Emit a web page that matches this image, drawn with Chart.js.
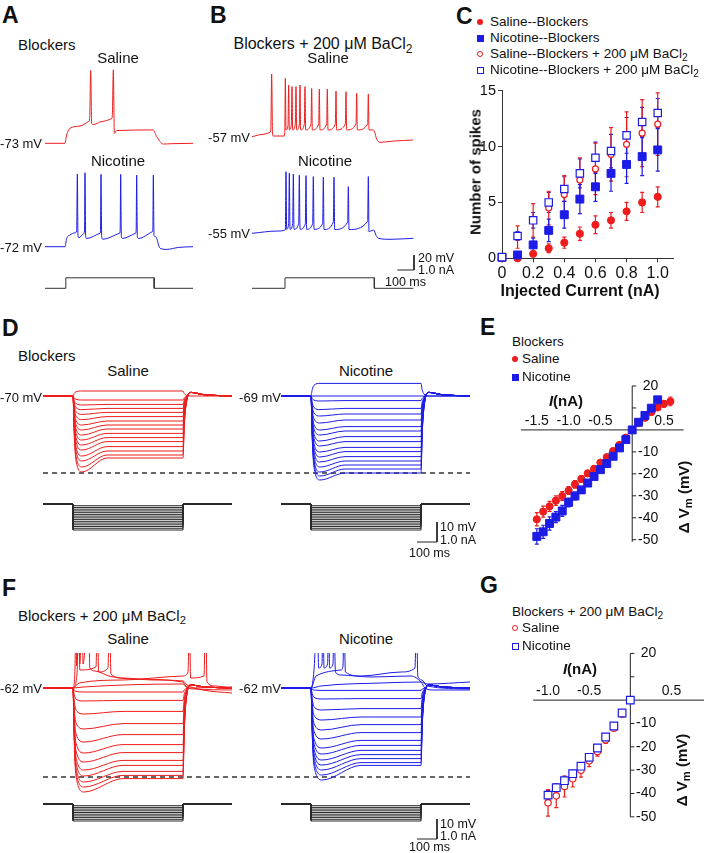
<!DOCTYPE html>
<html lang="pl">
<head>
<meta charset="utf-8">
<title>Blockers / BaCl2</title>
<script src="https://cdn.jsdelivr.net/npm/chart.js@4.4.1/dist/chart.umd.min.js"></script>
<style>
  html, body { margin: 0; padding: 0; background: #fff; }
  #fig { position: relative; width: 704px; height: 853px; overflow: hidden;
         font-family: "Liberation Sans", Arial, Helvetica, sans-serif; color: #111; }
  #fig canvas { position: absolute; }
  .t { position: absolute; white-space: nowrap; font-size: 15px; line-height: 1; }
  .letter { font-size: 23px; font-weight: bold; }
  .big { font-size: 16px; }
  .mv { font-size: 13px; }
  .bar { font-size: 12.5px; }
  .leg { font-size: 13.5px; }
  .ax { font-size: 16px; font-weight: bold; }
  .ax3 { font-size: 15px; font-weight: bold; }
  .ax2 { font-size: 15px; font-weight: bold; }
  sub { font-size: 0.75em; vertical-align: -0.3em; line-height: 0; }
  .mk { position: absolute; box-sizing: border-box; }
</style>
</head>
<body>
<div id="fig"></div>
<script>
// Kolory serii
var RED = "#ee1c1c";
var BLUE = "#1c1ce6";
var INK = "#222";

// ---------- Panel A i B: przebiegi [czas ms, napięcie mV] ----------
var aSalineTrace = [[0,-73],[120,-73],[130,-62],[150,-53],[210,-50],[262,-44],[268,-40],[274,24],[280,-47],[290,-48],[340,-44],[400,-40],[404,-36],[410,25],[416,-59.7],[430,-56],[648,-55.2],[670,-64],[710,-74],[760,-73.5],[888,-73]];
var aNicotineTrace = [[0,-72],[120,-72],[130,-61],[150,-56.4],[180,-53.5],[190,-51],[194,25],[198,-58],[204,-60],[230,-55],[237,-51],[240,26.7],[244,-58],[250,-61],[330,-54],[333,-50],[336,24.4],[340,-58],[346,-62],[448,-54],[451,-50],[454,24.4],[458,-58],[464,-61],[544,-54],[547,-50],[550,23.5],[554,-58],[560,-61],[644,-52],[647,-48],[650,23.5],[654,-57],[664,-58.7],[690,-74],[730,-75.6],[800,-73],[888,-72]];
var aStep = { amp: 0.7, on: 125, off: 655, end: 888 }; // nA, ms

var bSalineTrace = [[0,-57],[60,-54],[108,-51.2],[113,-45],[118,26.6],[123,-52],[128,-56.1],[194,-56.1],[197,-45],[200,20.8],[204,-48],[216,-42],[220,11.9],[224,-48],[236,-41],[240,9.7],[244,-48],[260,-40],[264,9.7],[268,-48],[284,-40],[288,11.9],[292,-48],[314,-40],[318,9.7],[322,-48],[354,-40],[358,7.4],[362,-48],[400,-40],[404,6.6],[408,-48],[448,-40],[452,6.6],[456,-48],[500,-40],[504,3.9],[508,-48],[560,-40],[564,3],[568,-48],[624,-40],[628,0.8],[632,-48],[694,-40],[698,-0.1],[702,-48],[728,-48],[736,-51],[748,-60],[768,-64.5],[850,-62.8],[966,-61.4]];
var bNicotineTrace = [[0,-55],[150,-52],[200,-50.5],[204,27.2],[208,-49.7],[220,-42],[224,25],[228,-49.7],[244,-42],[248,24.1],[252,-49.7],[280,-42],[284,22.8],[288,-49.7],[320,-42],[324,21.9],[328,-49.7],[364,-42],[368,20.6],[372,-49.7],[424,-42],[428,19.7],[432,-50],[488,-40],[492,19.7],[496,-50],[574,-40],[578,7.2],[582,-50],[694,-39],[698,20.6],[702,-52.8],[712,-52],[730,-50.6],[745,-58],[758,-61.7],[828,-63],[968,-61.7]];
var bStep = { amp: 0.7, on: 198, off: 734, end: 968 };

// ---------- Panel C: liczba potencjałów vs prąd ----------
var cCurrent = [0, 0.1, 0.2, 0.3, 0.4, 0.5, 0.6, 0.7, 0.8, 0.9, 1.0];
var cSalineBlk = [0, 0, 0.4, 0.9, 1.4, 2.2, 3.0, 3.4, 4.2, 5.0, 5.5];
var cSalineBlkErr = [0, 0, 0.2, 0.4, 0.5, 0.6, 0.8, 0.7, 0.8, 0.9, 0.9];
var cNicotineBlk = [0.1, 0.3, 1.2, 2.5, 3.9, 5.3, 6.4, 7.6, 8.4, 9.1, 9.7];
var cNicotineBlkErr = [0.1, 0.3, 0.6, 1.0, 1.2, 1.3, 1.3, 1.6, 1.7, 1.7, 1.9];
var cSalineBa = [0.1, 1.9, 3.4, 4.5, 5.7, 7.0, 8.0, 9.3, 10.2, 11.2, 12.0];
var cSalineBaErr = [0.2, 1.0, 1.5, 1.5, 1.7, 2.0, 2.3, 2.4, 2.9, 3.0, 2.8];
var cNicotineBa = [0.1, 2.0, 3.4, 5.0, 6.2, 7.6, 9.0, 9.6, 11.0, 12.2, 13.0];
var cNicotineBaErr = [0.1, 0.4, 0.7, 0.9, 1.1, 1.3, 1.4, 1.5, 1.6, 1.3, 1.3];
var cTicksX = [0, 0.2, 0.4, 0.6, 0.8, 1.0];

// ---------- Panel D: odpowiedzi na skoki prądu (ΔV w mV) ----------
var dSalineSteady = [2.5, -2, -4.2, -6.2, -8.2, -10.3, -12.5, -14.5, -16.5, -18.7, -20.8, -22.8, -25.3, -27.5, -29.5, -31];
var dSalineSag = [2.5, -2, -4.5, -6.8, -9.2, -11.8, -14.5, -17, -19.5, -22, -24.5, -27, -30, -32.5, -35.5, -38];
var dNicotineSteady = [6.3, 0, -2.3, -6.2, -9, -12, -15.3, -17.5, -20.3, -22.8, -25.7, -27.8, -30.3, -32.5, -34.5, -36.5, -38.5];
var dNicotineSag = [6.3, 0, -2.5, -6.8, -10, -13.5, -17, -19.5, -22.5, -25, -28, -30.5, -33, -35.5, -38, -40, -42];
var dCurrentLevels = [-0.1, -0.2, -0.3, -0.4, -0.5, -0.6, -0.7, -0.8, -0.9, -1.0, -1.1, -1.2, -1.3, -1.4, -1.5];
var dReference = -38.5; // linia przerywana, mV

// ---------- Panel E ----------
var eSalineCurrent = [-1.5,-1.4,-1.3,-1.2,-1.1,-1.0,-0.9,-0.8,-0.7,-0.6,-0.5,-0.4,-0.3,-0.2,-0.1,0,0.1,0.2,0.3,0.4,0.5,0.6];
var eSaline = [-40.7,-37.2,-34.8,-32.2,-30.1,-27.6,-24.8,-22.3,-19.8,-17.7,-14.9,-12.4,-9.6,-6.8,-3.5,0,3.1,5.5,8.1,10.2,11.9,13.0];
var eSalineErr = [3,2.5,2.3,2.2,2,1.8,1.7,1.5,1.4,1.3,1.1,1,0.9,0.8,0.6,0,0.8,1,1,1.2,1.5,2];
var eNicotineCurrent = [-1.5,-1.4,-1.3,-1.2,-1.1,-1.0,-0.9,-0.8,-0.7,-0.6,-0.5,-0.4,-0.3,-0.2,-0.1,0,0.1,0.2,0.3,0.4];
var eNicotine = [-48.5,-46.4,-42.6,-39.7,-36.9,-33,-30.1,-27.3,-24.2,-21.2,-18.1,-15.3,-12,-8.2,-4.4,0,3.5,6.6,9.9,13.7];
var eNicotineErr = [3.5,3,3,2.5,2.5,2,1.8,1.5,1.3,1.2,1,1,0.8,0.7,0.5,0,0.5,0.7,0.8,1];
var eTicksX = [-1.5, -1.0, -0.5, 0.5];
var eTicksY = [20, 10, 0, -10, -20, -30, -40, -50];
var eLabelsY = [20, -10, -20, -30, -40, -50];

// ---------- Panel F ----------
var fSalineSteady = [-2, -6.2, -11.7, -17.8, -23.3, -28.3, -32.3, -36.2, -38.7, -41.7, -43.7, -45.3];
var fSalineSag = [-2, -6.5, -13, -20.5, -27, -32.5, -37, -41, -44, -47, -49.5, -52];
var fNicotineSteady = [-1.2, -5.3, -10.3, -14.5, -18.3, -22.3, -26.2, -28.7, -31.2, -33.3, -35.3, -37.3, -38.7];
var fNicotineSag = [-1.2, -5.5, -11, -16, -21, -25.5, -30, -33, -36, -38.5, -41, -43.5, -46];
// przebiegi depolaryzujące z potencjałami (szczyty obcięte u góry)
var fSalineDepA = [[0,0],[150,0],[160,10],[164,40],[168,11],[180,40],[184,12],[196,40],[200,12],[228,40],[234,10],[260,8.5],[330,6],[450,4.5],[700,3],[715,0.5],[760,-0.5],[945,-1]];
var fSalineDepB = [[0,0],[150,0],[170,7],[178,40],[184,9],[265,10.5],[272,40],[278,8],[325,10],[332,40],[340,7],[400,5],[550,4],[700,3.5],[720,1.5],[800,-1],[945,-2.5]];
var fSalineDepC = [[0,0],[150,0],[180,2.5],[400,4],[700,6],[725,8],[732,40],[738,5],[805,6],[813,40],[820,3],[860,1],[945,0]];
var fSalineDepD = [[0,0],[150,0],[200,0.5],[700,2],[730,0],[945,0.5]];
var fNicotineDepA = [[0,0],[150,0],[165,9],[182,40],[188,10],[205,12],[210,40],[215,10],[233,12],[238,40],[243,10],[260,12],[265,40],[272,8],[300,6.5],[450,5.5],[650,6],[700,3],[720,0],[760,-1],[945,-1]];
var fNicotineDepB = [[0,0],[150,0],[175,6],[300,9],[310,11],[315,40],[322,8],[400,6],[600,8],[670,10],[677,40],[684,6],[705,4],[730,1],[945,-0.5]];
var fNicotineDepC = [[0,0],[150,0],[200,1],[500,2.5],[700,3],[730,2],[945,3]];
var fCurrentLevels = [-0.1, -0.2, -0.3, -0.4, -0.5, -0.6, -0.7, -0.8, -0.9, -1.0];
var fReference = -44.5;

// ---------- Panel G ----------
var gCurrent = [-1.0,-0.9,-0.8,-0.7,-0.6,-0.5,-0.4,-0.3,-0.2,-0.1,0];
var gSaline = [-44,-41,-37,-33.7,-30,-26,-22,-17,-12,-6,0];
var gSalineErr = [5.7,5,4.5,3.5,3,2.5,2,1.5,1,0.7,0];
var gNicotine = [-40.7,-37.5,-34.5,-31.5,-28.3,-24.5,-20.5,-15.8,-11.1,-5.5,0];
var gNicotineErr = [2,1.8,1.8,1.5,1.3,1,1,0.8,0.6,0.5,0];
var gTicksX = [-1.0, -0.5, 0.5];
var gTicksY = [20, 10, 0, -10, -20, -30, -40, -50];
var gLabelsY = [20, -10, -20, -30, -40, -50];

Chart.defaults.font.family = "'Liberation Sans', Arial, Helvetica, sans-serif";
Chart.defaults.color = "#111";

var fig = document.getElementById("fig");

// Tworzy płótno w zadanym miejscu
function makeCanvas(left, top, w, h) {
  var c = document.createElement("canvas");
  c.width = w;
  c.height = h;
  c.style.left = left + "px";
  c.style.top = top + "px";
  fig.appendChild(c);
  return c.getContext("2d");
}

// Zakres osi poziomej: wartość v0 ląduje na pikselu p0
function hRange(left, width, p0, v0, pxPerUnit) {
  return { min: v0 - (p0 - left) / pxPerUnit, max: v0 + (left + width - p0) / pxPerUnit };
}
// Zakres osi pionowej
function vRange(top, height, p0, v0, pxPerUnit) {
  return { min: v0 - (top + height - p0) / pxPerUnit, max: v0 + (p0 - top) / pxPerUnit };
}
function hidden(r) {
  return { type: "linear", display: false, min: r.min, max: r.max };
}

function toXY(pts, offset) {
  return pts.map(function (p) { return { x: p[0] + (offset || 0), y: p[1] }; });
}

// Zwykła linia przebiegu
function trace(pts, color, axis, offset) {
  return {
    data: toXY(pts, offset), borderColor: color, borderWidth: 1, pointRadius: 0,
    cubicInterpolationMode: "monotone", yAxisID: axis, fill: false
  };
}
// Linia łamana (skok prądu, skala)
function poly(pts, color, axis, offset, width, dash) {
  return {
    data: toXY(pts, offset), borderColor: color, borderWidth: width || 1, pointRadius: 0,
    tension: 0, yAxisID: axis, fill: false, borderDash: dash || []
  };
}

function currentStep(level, on, off, end) {
  return [[0, 0], [on, 0], [on, level], [off, level], [off, 0], [end, 0]];
}

// Odpowiedź na skok prądu z wartości ustalonej i minimum (sag)
function stepResponse(steady, sag, rebound, p) {
  var reb = steady < 0 ? rebound : 0;
  return [[0, 0], [p.on, 0], [p.on + 6, 0.5 * sag], [p.on + 15, 0.85 * sag], [p.on + p.sagAt, sag],
    [p.on + p.settle, steady], [p.off, steady], [p.off + 6, 0.5 * steady], [p.off + 15, 0.15 * steady],
    [p.off + 40, reb], [p.off + 100, reb * 0.4], [p.end, 0]];
}

function baseOptions(scales, plugins) {
  return {
    responsive: false, animation: false, devicePixelRatio: 1, events: [],
    layout: { padding: 0 },
    plugins: Object.assign({ legend: { display: false }, tooltip: { enabled: false } }, plugins || {}),
    scales: scales
  };
}

// Słupki błędów rysowane pod markerami
var errorBars = {
  id: "errorBars",
  beforeDatasetsDraw: function (chart) {
    var ctx = chart.ctx;
    chart.data.datasets.forEach(function (ds, i) {
      if (!ds.errors) return;
      var meta = chart.getDatasetMeta(i);
      var ys = chart.scales[meta.yAxisID];
      ctx.save();
      ctx.strokeStyle = ds.borderColor;
      ctx.lineWidth = 1.2;
      meta.data.forEach(function (pt, j) {
        var e = ds.errors[j];
        if (!e) return;
        var v = ds.data[j].y;
        var y1 = ys.getPixelForValue(v + e), y2 = ys.getPixelForValue(v - e);
        ctx.beginPath();
        ctx.moveTo(pt.x, y1); ctx.lineTo(pt.x, y2);
        ctx.moveTo(pt.x - 2, y1); ctx.lineTo(pt.x + 2, y1);
        ctx.moveTo(pt.x - 2, y2); ctx.lineTo(pt.x + 2, y2);
        ctx.stroke();
      });
      ctx.restore();
    });
  }
};

// Osie przecinające się w (0,0) – panele E i G
var crossAxes = {
  id: "crossAxes",
  beforeDatasetsDraw: function (chart, args, o) {
    var ctx = chart.ctx, x = chart.scales.x, y = chart.scales.y;
    var x0 = x.getPixelForValue(0), y0 = y.getPixelForValue(0);
    ctx.save();
    ctx.strokeStyle = INK;
    ctx.lineWidth = 1;
    ctx.beginPath();
    ctx.moveTo(x.getPixelForValue(o.xFrom), y0); ctx.lineTo(x.getPixelForValue(o.xTo), y0);
    ctx.moveTo(x0, y.getPixelForValue(o.yFrom)); ctx.lineTo(x0, y.getPixelForValue(o.yTo));
    o.yTicks.forEach(function (v) {
      var p = y.getPixelForValue(v);
      ctx.moveTo(x0, p); ctx.lineTo(x0 + 4, p);
    });
    ctx.stroke();
    ctx.fillStyle = "#111";
    ctx.font = "14px 'Liberation Sans', Arial, sans-serif";
    ctx.textAlign = "right";
    ctx.textBaseline = "middle";
    o.yLabels.forEach(function (v) { ctx.fillText(String(v), x0 + 26, y.getPixelForValue(v)); });
    ctx.textAlign = "center";
    o.xTicks.forEach(function (v) { ctx.fillText(v.toFixed(1), x.getPixelForValue(v), y0 - 9); });
    ctx.restore();
  }
};

function points(xs, ys, errs, color, style, radius, open, order) {
  return {
    data: xs.map(function (v, i) { return { x: v, y: ys[i] }; }),
    errors: errs, borderColor: color, backgroundColor: open ? "#fff" : color,
    pointStyle: style, pointRadius: radius, borderWidth: open ? 1.2 : 1,
    showLine: false, clip: false, order: order
  };
}

// ===== Panel A =====
(function () {
  var L = 40, T = 60, W = 160, H = 235;
  var ctx = makeCanvas(L, T, W, H);
  new Chart(ctx, {
    type: "line",
    data: { datasets: [
      trace(aSalineTrace, RED, "ySal"),
      trace(aNicotineTrace, BLUE, "yNic"),
      poly(currentStep(aStep.amp, aStep.on, aStep.off, aStep.end), "#333", "yI")
    ] },
    options: baseOptions({
      x: hidden(hRange(L, W, 45, 0, 1 / 6)),
      ySal: hidden(vRange(T, H, 143.3, -73, 0.75)),
      yNic: hidden(vRange(T, H, 246.7, -72, 0.75)),
      yI: hidden(vRange(T, H, 288.3, 0, 15))
    })
  });
})();

// ===== Panel B =====
(function () {
  var L = 248, T = 60, W = 172, H = 235;
  var ctx = makeCanvas(L, T, W, H);
  var xr = hRange(L, W, 252, 0, 1 / 6);
  // skala 20 mV / 100 ms w jednostkach osi yNic
  var sbT = (414 - 252) * 6, sbV = -55 - (270 - 233.3) / 0.75;
  new Chart(ctx, {
    type: "line",
    data: { datasets: [
      trace(bSalineTrace, RED, "ySal"),
      trace(bNicotineTrace, BLUE, "yNic"),
      poly(currentStep(bStep.amp, bStep.on, bStep.off, bStep.end), "#333", "yI"),
      poly([[sbT, sbV + 20], [sbT, sbV], [sbT - 100, sbV]], "#222", "yNic")
    ] },
    options: baseOptions({
      x: hidden(xr),
      ySal: hidden(vRange(T, H, 136.7, -57, 0.75)),
      yNic: hidden(vRange(T, H, 233.3, -55, 0.75)),
      yI: hidden(vRange(T, H, 288.3, 0, 15))
    })
  });
})();

// ===== Panel C =====
(function () {
  var ctx = makeCanvas(470, 80, 234, 220);
  var axisStyle = {
    grid: { display: true, drawOnChartArea: false, drawTicks: true, tickLength: 4, color: "#333" },
    border: { display: true, color: "#333", width: 1 }
  };
  new Chart(ctx, {
    type: "scatter",
    data: { datasets: [
      points(cCurrent, cNicotineBa, cNicotineBaErr, BLUE, "rect", 5.2, true, 0),
      points(cCurrent, cSalineBa, cSalineBaErr, RED, "circle", 3, true, 1),
      points(cCurrent, cNicotineBlk, cNicotineBlkErr, BLUE, "rect", 5.6, false, 2),
      points(cCurrent, cSalineBlk, cSalineBlkErr, RED, "circle", 3.6, false, 3)
    ] },
    options: Object.assign(baseOptions({
      x: Object.assign({
        type: "linear", min: 0, max: 1.1,
        afterBuildTicks: function (s) { s.ticks = cTicksX.map(function (v) { return { value: v }; }); },
        afterFit: function (s) { s.height = 41.7; },
        ticks: { font: { size: 16 }, color: "#111", padding: 2, maxRotation: 0, autoSkip: false,
          callback: function (v) { return v === 0 ? "0" : v.toFixed(1); } }
      }, axisStyle),
      y: Object.assign({
        type: "linear", min: 0, max: 15,
        afterFit: function (s) { s.width = 32; },
        ticks: { stepSize: 5, font: { size: 14.5 }, color: "#111", padding: 2 }
      }, axisStyle)
    }), { layout: { padding: { left: 0, top: 7.3, right: 30.7, bottom: 0 } } }),
    plugins: [errorBars]
  });
})();

// ===== Panele D i F: rodziny przebiegów =====
function familyChart(cfg) {
  var ctx = makeCanvas(0, cfg.top, 480, cfg.height);
  var nicOffset = (281 - 43) * 5; // druga kolumna
  var ds = [];
  cfg.salSteady.forEach(function (s, i) {
    ds.push(trace(stepResponse(s, cfg.salSag[i], cfg.rebound, cfg.shape), RED, "yV", 0));
  });
  (cfg.salExtra || []).forEach(function (p) { ds.push(trace(p, RED, "yV", 0)); });
  cfg.nicSteady.forEach(function (s, i) {
    ds.push(trace(stepResponse(s, cfg.nicSag[i], cfg.rebound, cfg.shape), BLUE, "yV", nicOffset));
  });
  (cfg.nicExtra || []).forEach(function (p) { ds.push(trace(p, BLUE, "yV", nicOffset)); });
  cfg.currents.forEach(function (lv) {
    var st = currentStep(lv, cfg.shape.on, cfg.shape.off, cfg.shape.end);
    ds.push(poly(st, "#2a2a2a", "yI", 0));
    ds.push(poly(st, "#2a2a2a", "yI", nicOffset));
  });
  // linia odniesienia
  ds.push(poly([[0, cfg.reference], [(470 - 43) * 5, cfg.reference]], "#333", "yV", 0, 1.3, [5, 4]));
  // skala 10 mV / 100 ms
  var sbT = (437 - 43) * 5, sbV = -(cfg.barBottom - cfg.zeroPx) / 2;
  ds.push(poly([[sbT, sbV + 10], [sbT, sbV], [sbT - 100, sbV]], "#222", "yV", 0));
  new Chart(ctx, {
    type: "line",
    data: { datasets: ds },
    options: baseOptions({
      x: hidden(hRange(0, 480, 43, 0, 0.2)),
      yV: hidden(vRange(cfg.top, cfg.height, cfg.zeroPx, 0, 2)),
      yI: hidden(vRange(cfg.top, cfg.height, cfg.iZeroPx, 0, cfg.iScale))
    })
  });
}

familyChart({
  top: 380, height: 180, zeroPx: 396, iZeroPx: 504, iScale: 26 / 1.5, barBottom: 542,
  salSteady: dSalineSteady, salSag: dSalineSag, nicSteady: dNicotineSteady, nicSag: dNicotineSag,
  currents: dCurrentLevels, reference: dReference, rebound: 1.8,
  shape: { on: 150, off: 700, end: 945, sagAt: 45, settle: 170 }
});

familyChart({
  top: 653, height: 200, zeroPx: 688, iZeroPx: 804, iScale: 17, barBottom: 839,
  salSteady: fSalineSteady, salSag: fSalineSag, nicSteady: fNicotineSteady, nicSag: fNicotineSag,
  salExtra: [fSalineDepA, fSalineDepB, fSalineDepC, fSalineDepD],
  nicExtra: [fNicotineDepA, fNicotineDepB, fNicotineDepC],
  currents: fCurrentLevels, reference: fReference, rebound: 1.5,
  shape: { on: 150, off: 700, end: 945, sagAt: 55, settle: 250 }
});

// ===== Panel E =====
(function () {
  var L = 500, T = 370, W = 204, H = 190;
  var ctx = makeCanvas(L, T, W, H);
  new Chart(ctx, {
    type: "scatter",
    data: { datasets: [
      points(eNicotineCurrent, eNicotine, eNicotineErr, BLUE, "rect", 5.6, false, 0),
      points(eSalineCurrent, eSaline, eSalineErr, RED, "circle", 3.6, false, 1)
    ] },
    options: baseOptions({
      x: hidden(hRange(L, W, 634.3, 0, 68)),
      y: hidden(vRange(T, H, 427.3, 0, 2.36))
    }, { crossAxes: { xFrom: -1.75, xTo: 0.81, yFrom: -51, yTo: 20, yTicks: eTicksY, yLabels: eLabelsY, xTicks: eTicksX } }),
    plugins: [crossAxes, errorBars]
  });
})();

// ===== Panel G =====
(function () {
  var L = 500, T = 640, W = 204, H = 200;
  var ctx = makeCanvas(L, T, W, H);
  new Chart(ctx, {
    type: "scatter",
    data: { datasets: [
      points(gCurrent, gNicotine, gNicotineErr, BLUE, "rect", 5.4, true, 0),
      points(gCurrent, gSaline, gSalineErr, RED, "circle", 3.2, true, 1)
    ] },
    options: baseOptions({
      x: hidden(hRange(L, W, 632.3, 0, 88)),
      y: hidden(vRange(T, H, 697.3, 0, 2.5))
    }, { crossAxes: { xFrom: -1.18, xTo: 0.9, yFrom: -50, yTo: 20, yTicks: gTicksY, yLabels: gLabelsY, xTicks: gTicksX } }),
    plugins: [crossAxes, errorBars]
  });
})();

// ===== Teksty =====
function txt(html, x, y, cls, align) {
  var d = document.createElement("div");
  d.className = "t " + (cls || "");
  d.innerHTML = html;
  d.style.left = x + "px";
  d.style.top = y + "px";
  var tx = align === "center" ? "-50%" : align === "right" ? "-100%" : "0";
  d.style.transform = "translate(" + tx + ",-50%)";
  fig.appendChild(d);
  return d;
}
function vtxt(html, x, y, cls) {
  var d = txt(html, x, y, cls, "center");
  d.style.transform = "translate(-50%,-50%) rotate(-90deg)";
}
function marker(x, y, color, shape, open) {
  var m = document.createElement("div");
  var s = shape === "square" ? 7 : 6.5;
  m.className = "mk";
  m.style.left = (x - s / 2) + "px";
  m.style.top = (y - s / 2) + "px";
  m.style.width = s + "px";
  m.style.height = s + "px";
  if (shape === "circle") m.style.borderRadius = "50%";
  if (open) { m.style.border = "1.2px solid " + color; m.style.background = "#fff"; }
  else m.style.background = color;
  fig.appendChild(m);
}

var BA = "Blockers + 200 μM BaCl<sub>2</sub>";

txt("A", 2, 15, "letter");
txt("B", 210, 15, "letter");
txt("C", 456, 16, "letter");
txt("D", 2, 328, "letter");
txt("E", 480, 327, "letter");
txt("F", 2, 588, "letter");
txt("G", 480, 585, "letter");

// A
txt("Blockers", 18, 44);
txt("Saline", 118, 57, "", "center");
txt("Nicotine", 118, 160, "", "center");
txt("-73 mV", 42, 143, "mv", "right");
txt("-72 mV", 42, 247, "mv", "right");
// B
txt(BA, 323, 44, "big", "center");
txt("Saline", 328, 57, "", "center");
txt("Nicotine", 325, 160, "", "center");
txt("-57 mV", 250, 137, "mv", "right");
txt("-55 mV", 250, 233, "mv", "right");
txt("20 mV", 418, 258, "bar");
txt("1.0 nA", 418, 270, "bar");
txt("100 ms", 385, 282, "bar");
// C
var cLeg = [
  ["Saline--Blockers", RED, "circle", false],
  ["Nicotine--Blockers", BLUE, "square", false],
  ["Saline--" + BA, RED, "circle", true],
  ["Nicotine--" + BA, BLUE, "square", true]
];
cLeg.forEach(function (it, i) {
  var y = 22 + i * 16;
  marker(480, y, it[1], it[2], it[3]);
  txt(it[0], 490, y, "leg");
});
vtxt("Number of spikes", 475, 172, "ax3");
txt("Injected Current (nA)", 580, 291, "ax", "center");
// D
txt("Blockers", 18, 355);
txt("Saline", 128, 370, "", "center");
txt("Nicotine", 366, 370, "", "center");
txt("-70 mV", 42, 397, "mv", "right");
txt("-69 mV", 281, 397, "mv", "right");
txt("10 mV", 440, 527, "bar");
txt("1.0 nA", 440, 540, "bar");
txt("100 ms", 409, 553, "bar");
// E
txt("Blockers", 512, 342, "leg");
marker(515, 359, RED, "circle", false);
txt("Saline", 522, 359, "leg");
marker(515, 377, BLUE, "square", false);
txt("Nicotine", 522, 377, "leg");
txt("<i>I</i>(nA)", 566, 400, "ax2", "center");
vtxt("Δ V<sub>m</sub> (mV)", 683, 497, "ax2");
// F
txt(BA, 18, 615);
txt("Saline", 128, 638, "", "center");
txt("Nicotine", 366, 638, "", "center");
txt("-62 mV", 42, 688, "mv", "right");
txt("-62 mV", 281, 688, "mv", "right");
txt("10 mV", 440, 824, "bar");
txt("1.0 nA", 440, 836, "bar");
txt("100 ms", 409, 847, "bar");
// G
txt(BA, 512, 612, "leg");
marker(515, 628, RED, "circle", true);
txt("Saline", 522, 628, "leg");
marker(515, 646, BLUE, "square", true);
txt("Nicotine", 522, 646, "leg");
txt("<i>I</i>(nA)", 580, 668, "ax2", "center");
vtxt("Δ V<sub>m</sub> (mV)", 681, 770, "ax2");
</script>
</body>
</html>
